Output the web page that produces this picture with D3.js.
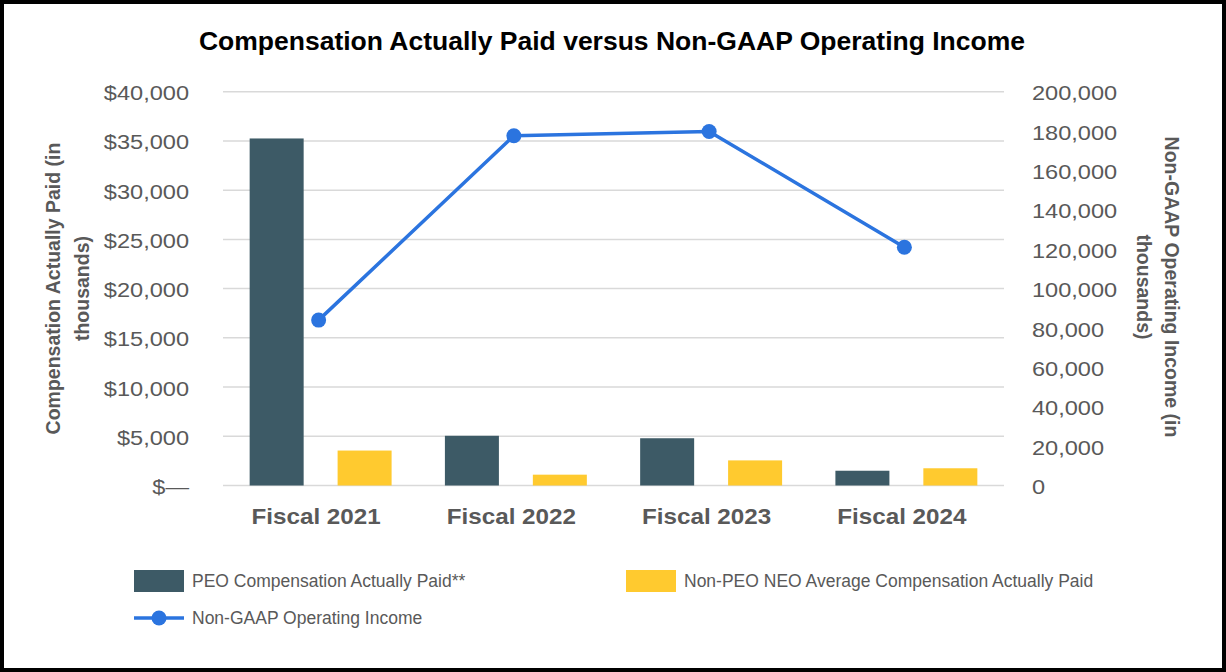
<!DOCTYPE html>
<html lang="en">
  <head>
    <meta charset="utf-8">
    <script type="text/javascript" src="https://d3js.org/d3.v7.min.js"></script>
    <style>
      body { margin: 0; background: #fff; }
      text { font-family: "Liberation Sans", Arial, sans-serif; }
    </style>
  </head>
  <body>
    <div id="chart"></div>
    <script type="text/javascript">

      // data (thousands)
      const years = ["Fiscal 2021", "Fiscal 2022", "Fiscal 2023", "Fiscal 2024"];
      const peoCap = [35250, 5050, 4800, 1500];
      const neoCap = [3550, 1100, 2550, 1750];
      const opIncome = [84000, 177600, 179800, 121000];

      const leftTicks = [0, 5000, 10000, 15000, 20000, 25000, 30000, 35000, 40000];
      const leftTickLabels = ["$\u2014", "$5,000", "$10,000", "$15,000", "$20,000", "$25,000", "$30,000", "$35,000", "$40,000"];
      const rightTicks = [0, 20000, 40000, 60000, 80000, 100000, 120000, 140000, 160000, 180000, 200000];
      const rightTickLabels = ["0", "20,000", "40,000", "60,000", "80,000", "100,000", "120,000", "140,000", "160,000", "180,000", "200,000"];

      const seriesNames = ["PEO Compensation Actually Paid**", "Non-PEO NEO Average Compensation Actually Paid", "Non-GAAP Operating Income"];

      const W = 1226, H = 672;
      const plot = {left: 223, right: 1004, top: 91.7, bottom: 485.5};
      const dark = "#3d5a66", yellow = "#ffca2f", blue = "#2b74df", grey = "#595959";

      const svg = d3.select("#chart")
        .append("svg")
          .attr("width", W)
          .attr("height", H);

      // stretch text horizontally around its anchor
      function stretchX(sel, k) {
        sel.each(function() {
          const t = d3.select(this);
          const x = +t.attr("x") || 0, y = +t.attr("y") || 0;
          t.attr("transform", `translate(${x},${y}) scale(${k},1) translate(${-x},${-y})`);
        });
      }

      // frame
      svg.append("rect")
        .attr("x", 2).attr("y", 2)
        .attr("width", W - 4).attr("height", H - 4)
        .attr("fill", "#fff")
        .attr("stroke", "#000")
        .attr("stroke-width", 4);

      // scales
      const x0 = d3.scaleBand()
        .domain(years)
        .range([plot.left, plot.right])
        .paddingInner(0.273)
        .paddingOuter(0.1365);

      const x1 = d3.scaleBand()
        .domain(["peo", "neo"])
        .range([0, x0.bandwidth()])
        .paddingInner(0.386);

      const yL = d3.scaleLinear().domain([0, 40000]).range([plot.bottom, plot.top]);
      const yR = d3.scaleLinear().domain([0, 200000]).range([plot.bottom, plot.top]);

      // gridlines
      svg.append("g")
        .selectAll("line")
        .data(leftTicks)
        .join("line")
          .attr("x1", plot.left).attr("x2", plot.right)
          .attr("y1", d => yL(d)).attr("y2", d => yL(d))
          .attr("stroke", "#d9d9d9")
          .attr("stroke-width", 1.5);

      // left axis
      const gL = svg.append("g")
        .attr("transform", `translate(${plot.left},0)`)
        .call(d3.axisLeft(yL).tickValues(leftTicks).tickSize(0).tickPadding(34)
          .tickFormat((d, i) => leftTickLabels[i]));
      gL.select(".domain").remove();
      gL.selectAll("text")
        .attr("font-size", 20.5)
        .attr("fill", grey)
        .attr("y", 1.5)
        .call(stretchX, 1.15);

      // right axis
      const gR = svg.append("g")
        .attr("transform", `translate(${plot.right},0)`)
        .call(d3.axisRight(yR).tickValues(rightTicks).tickSize(0).tickPadding(28)
          .tickFormat((d, i) => rightTickLabels[i]));
      gR.select(".domain").remove();
      gR.selectAll("text")
        .attr("font-size", 20.5)
        .attr("fill", grey)
        .attr("y", 1.5)
        .call(stretchX, 1.15);

      // category labels
      const gX = svg.append("g")
        .attr("transform", `translate(-4.5,${plot.bottom})`)
        .call(d3.axisBottom(x0).tickSize(0).tickPadding(0));
      gX.select(".domain").remove();
      gX.selectAll("text")
        .attr("font-size", 22)
        .attr("font-weight", "bold")
        .attr("fill", grey)
        .attr("dy", 0)
        .attr("y", 38.5)
        .call(stretchX, 1.1);

      // bars
      const rows = years.map((y, i) => ({year: y, peo: peoCap[i], neo: neoCap[i]}));
      svg.append("g")
        .selectAll("g")
        .data(rows)
        .join("g")
          .attr("transform", d => `translate(${x0(d.year)},0)`)
        .selectAll("rect")
        .data(d => [{key: "peo", v: d.peo}, {key: "neo", v: d.neo}])
        .join("rect")
          .attr("x", d => x1(d.key))
          .attr("y", d => yL(d.v))
          .attr("width", x1.bandwidth())
          .attr("height", d => yL(0) - yL(d.v))
          .attr("fill", d => d.key === "peo" ? dark : yellow);

      // line
      const pts = years.map((y, i) => [x0(y) + x0.bandwidth() / 2 - 2, yR(opIncome[i])]);
      svg.append("path")
        .datum(pts)
        .attr("d", d3.line())
        .attr("fill", "none")
        .attr("stroke", blue)
        .attr("stroke-width", 3.5)
        .attr("stroke-linejoin", "round");

      svg.append("g")
        .selectAll("circle")
        .data(pts)
        .join("circle")
          .attr("cx", d => d[0])
          .attr("cy", d => d[1])
          .attr("r", 7.5)
          .attr("fill", blue);

      // title
      svg.append("text")
        .attr("x", 612)
        .attr("y", 50)
        .attr("text-anchor", "middle")
        .attr("font-size", 26.5)
        .attr("font-weight", "bold")
        .attr("fill", "#000")
        .text("Compensation Actually Paid versus Non-GAAP Operating Income");

      // axis titles
      const tL = svg.append("text")
        .attr("transform", "translate(68.5,288.5) rotate(-90)")
        .attr("text-anchor", "middle")
        .attr("font-size", 19.5)
        .attr("font-weight", "bold")
        .attr("fill", grey);
      tL.append("tspan").attr("x", 0).attr("dy", "-0.42em").text("Compensation Actually Paid (in");
      tL.append("tspan").attr("x", 0).attr("dy", "1.45em").text("thousands)");

      const tR = svg.append("text")
        .attr("transform", "translate(1156.5,287) rotate(90)")
        .attr("text-anchor", "middle")
        .attr("font-size", 19.5)
        .attr("font-weight", "bold")
        .attr("fill", grey);
      tR.append("tspan").attr("x", 0).attr("dy", "-0.42em").text("Non-GAAP Operating Income (in");
      tR.append("tspan").attr("x", 0).attr("dy", "1.4em").text("thousands)");

      // legend
      const leg = svg.append("g").attr("font-size", 17.5).attr("fill", grey);
      const items = [
        {name: seriesNames[0], x: 134, y: 581, type: "bar", color: dark},
        {name: seriesNames[1], x: 626, y: 581, type: "bar", color: yellow},
        {name: seriesNames[2], x: 134, y: 618, type: "line", color: blue}
      ];
      items.forEach(it => {
        if (it.type === "bar") {
          leg.append("rect")
            .attr("x", it.x).attr("y", it.y - 11)
            .attr("width", 50).attr("height", 22)
            .attr("fill", it.color);
        } else {
          leg.append("line")
            .attr("x1", it.x).attr("x2", it.x + 50)
            .attr("y1", it.y).attr("y2", it.y)
            .attr("stroke", it.color).attr("stroke-width", 3.5);
          leg.append("circle")
            .attr("cx", it.x + 25).attr("cy", it.y)
            .attr("r", 7.5).attr("fill", it.color);
        }
        leg.append("text")
          .attr("x", it.x + 58)
          .attr("y", it.y)
          .attr("dy", "0.35em")
          .text(it.name);
      });

    </script>
  </body>
</html>
